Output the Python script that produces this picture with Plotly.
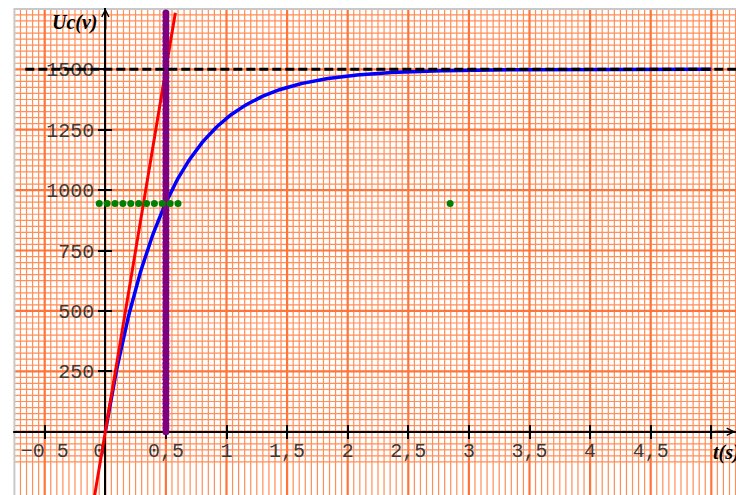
import numpy as np
import plotly.graph_objects as go

# Capacitor charging: Uc(t) = E * (1 - exp(-t / tau))
E = 1500            # final voltage (V)
TAU = 0.5           # time constant (s)
U_TAU = 945         # Uc reached at t = tau (0.63 E)

t_curve = np.linspace(0, 5, 401)
u_curve = E * (1 - np.exp(-t_curve / TAU))

# tangent at the origin (slope E / tau)
tangent_t = [-0.09, 0.578]
tangent_u = [E / TAU * v for v in tangent_t]

# asymptote Uc = E
asym_t = [-0.66, 5.25]
asym_u = [E, E]

# dotted vertical at t = tau
tau_seg_t = [TAU, TAU]
tau_seg_u = [0, 1733]

# dotted horizontal at 0.63 E
level_seg_t = [-0.05, 0.6]
level_seg_u = [U_TAU, U_TAU]

# lone point
point_t = [2.845]
point_u = [U_TAU]

x_tickvals = [-0.5, 0, 0.5, 1, 1.5, 2, 2.5, 3, 3.5, 4, 4.5, 5]
x_ticktext = ["\u22120 5", "0\u00a0", "0,5", "1", "1,5", "2", "2,5", "3", "3,5", "4", "4,5", ""]
y_tickvals = [250, 500, 750, 1000, 1250, 1500]
y_ticktext = ["250", "500", "750", "1000", "1250", "1500"]

# visible window
X0, X1 = -0.8688, 5.2038
Y0, Y1 = -262.0, 1786.8

# graph-paper sheet limits
SHEET_T0 = -0.75
SHEET_U_TOP = 1750
SHEET_U_BOTTOM = -125


def dotted(seg_t, seg_u, n):
    """Evenly spaced dots between the two ends of a segment."""
    return np.linspace(seg_t[0], seg_t[1], n), np.linspace(seg_u[0], seg_u[1], n)


def seg_path(segs):
    return " ".join(f"M{a:.4f},{b:.4f} L{c:.4f},{d:.4f}" for a, b, c, d in segs)


# graph paper: minor lines every 0.05 s / 25 V, major every 0.5 s / 250 V
vt = np.round(np.arange(SHEET_T0, X1 + 1e-9, 0.05), 4)
hu = np.arange(SHEET_U_BOTTOM, SHEET_U_TOP + 1, 25)
v_major = [t for t in vt if abs(t * 2 - round(t * 2)) < 1e-6]
v_minor = [t for t in vt if abs(t * 2 - round(t * 2)) >= 1e-6]
h_major = [u for u in hu if u % 250 == 0]
h_minor = [u for u in hu if u % 250 != 0]

minor_col = "#ff8e58"
major_col = "#ff7438"

shapes = [
    dict(type="path", xref="x", yref="y", layer="below",
         path=seg_path([(t, Y0 - 20, t, SHEET_U_TOP) for t in v_minor]),
         line=dict(color=minor_col, width=1.2)),
    dict(type="path", xref="x", yref="y", layer="below",
         path=seg_path([(SHEET_T0, u, X1 + 0.1, u) for u in h_minor]),
         line=dict(color=minor_col, width=1.2)),
    dict(type="path", xref="x", yref="y", layer="below",
         path=seg_path([(t, Y0 - 20, t, SHEET_U_TOP) for t in v_major]),
         line=dict(color=major_col, width=2.2)),
    dict(type="path", xref="x", yref="y", layer="below",
         path=seg_path([(SHEET_T0, u, X1 + 0.1, u) for u in h_major]),
         line=dict(color=major_col, width=2.2)),
    # sheet border
    dict(type="path", xref="x", yref="y", layer="below",
         path=f"M{SHEET_T0},{Y0 - 20} L{SHEET_T0},{SHEET_U_TOP} L{X1 + 0.1},{SHEET_U_TOP}",
         line=dict(color="#c8c8c8", width=2)),
    # blank margins around the sheet
    dict(type="rect", xref="paper", yref="paper", layer="above",
         x0=0, x1=(SHEET_T0 - 0.01 - X0) / (X1 - X0), y0=0, y1=1,
         fillcolor="white", line=dict(width=0)),
    dict(type="rect", xref="paper", yref="y", layer="above",
         x0=0, x1=1, y0=SHEET_U_TOP + 4, y1=Y1 + 20,
         fillcolor="white", line=dict(width=0)),
]

fig = go.Figure()

fig.add_trace(go.Scatter(x=t_curve, y=u_curve, mode="lines",
                         line=dict(color="#0000ff", width=3.5), hoverinfo="skip"))
fig.add_trace(go.Scatter(x=tangent_t, y=tangent_u, mode="lines",
                         line=dict(color="#ff0000", width=3), hoverinfo="skip"))
pt, pu = dotted(tau_seg_t, tau_seg_u, 105)
fig.add_trace(go.Scatter(x=pt, y=pu, mode="markers",
                         marker=dict(color="#7f007f", size=7, line=dict(width=0)),
                         hoverinfo="skip"))
fig.add_trace(go.Scatter(x=asym_t, y=asym_u, mode="lines",
                         line=dict(color="black", width=3, dash="9px,4px"), hoverinfo="skip"))
gt, gu = dotted(level_seg_t, level_seg_u, 11)
fig.add_trace(go.Scatter(x=gt, y=gu, mode="markers",
                         marker=dict(color="#008000", size=7, line=dict(width=0)),
                         hoverinfo="skip"))
fig.add_trace(go.Scatter(x=point_t, y=point_u, mode="markers",
                         marker=dict(color="#008000", size=7, line=dict(width=0)),
                         hoverinfo="skip"))
# carrier for the second-side tick axes
fig.add_trace(go.Scatter(x=[None], y=[None], xaxis="x2", yaxis="y2",
                         mode="markers", hoverinfo="skip"))

pos_x_axis = (0 - Y0) / (Y1 - Y0)
pos_y_axis = (0 - X0) / (X1 - X0)
tick_font = dict(family="Liberation Mono", size=20, color="#3a3a3a")

common = dict(showgrid=False, zeroline=False, fixedrange=True, automargin=False,
              layer="below traces", tickwidth=2, tickcolor="black", ticklen=6)

fig.update_layout(
    width=736, height=495,
    margin=dict(l=0, r=0, t=0, b=0),
    paper_bgcolor="white", plot_bgcolor="white",
    showlegend=False,
    # x labels sit right under the axis: their ticks point up, the lower half comes from xaxis2
    xaxis=dict(range=[X0, X1], anchor="free", position=pos_x_axis,
               showline=True, linecolor="black", linewidth=2,
               ticks="inside", tickvals=x_tickvals, ticktext=x_ticktext,
               tickfont=tick_font, **common),
    yaxis=dict(range=[Y0, Y1], anchor="free", position=pos_y_axis,
               showline=True, linecolor="black", linewidth=2,
               ticks="outside", tickvals=y_tickvals, ticktext=y_ticktext,
               tickfont=tick_font, **common),
    xaxis2=dict(range=[X0, X1], overlaying="x", anchor="free", position=pos_x_axis,
                showline=False, ticks="outside", tickvals=x_tickvals,
                showticklabels=False, **common),
    yaxis2=dict(range=[Y0, Y1], overlaying="y", anchor="free", position=pos_y_axis,
                showline=False, ticks="inside", tickvals=y_tickvals,
                showticklabels=False, **common),
    shapes=shapes,
    annotations=[
        dict(x=0, y=SHEET_U_TOP + 2, xref="x", yref="y", ax=0, ay=22, text="",
             showarrow=True, arrowhead=5, arrowsize=0.7, arrowwidth=2, arrowcolor="black"),
        dict(x=X1 - 0.005, y=0, xref="x", yref="y", ax=-22, ay=0, text="",
             showarrow=True, arrowhead=5, arrowsize=0.7, arrowwidth=2, arrowcolor="black"),
        dict(x=-0.25, y=1693, xref="x", yref="y", text="<b><i>Uc(v)</i></b>",
             showarrow=False, xanchor="center", yanchor="middle",
             font=dict(family="Liberation Serif", size=20, color="black")),
        dict(x=5.0, y=-88, xref="x", yref="y", text="<b><i>t(s)</i></b>",
             showarrow=False, xanchor="left", yanchor="middle",
             font=dict(family="Liberation Serif", size=20, color="black")),
    ],
)

fig.write_html("out.html")
